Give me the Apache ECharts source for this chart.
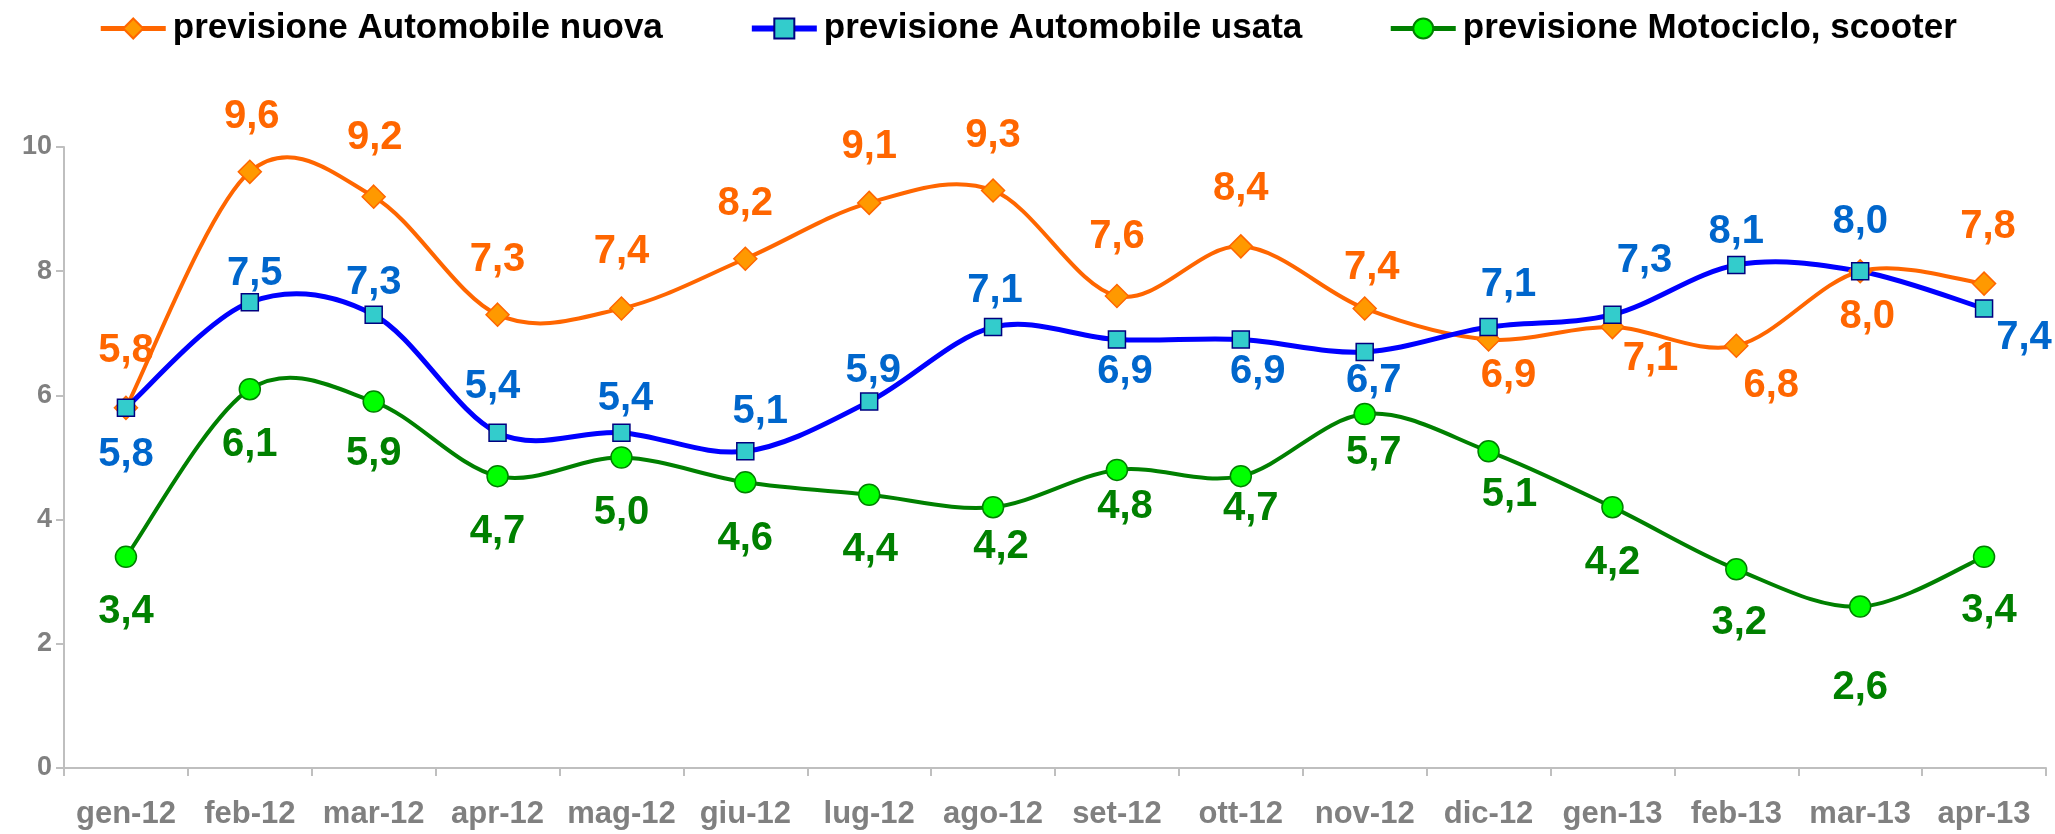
<!DOCTYPE html>
<html>
<head>
<meta charset="utf-8">
<title>previsione</title>
<script src="https://cdn.jsdelivr.net/npm/echarts@6/dist/echarts.min.js"></script>
<style>
  html, body { margin: 0; padding: 0; background: #fff; }
  #main { width: 2055px; height: 834px; }
</style>
</head>
<body>
<div id="main"></div>
<script>
// mesi
var categories = ['gen-12', 'feb-12', 'mar-12', 'apr-12', 'mag-12', 'giu-12', 'lug-12', 'ago-12',
    'set-12', 'ott-12', 'nov-12', 'dic-12', 'gen-13', 'feb-13', 'mar-13', 'apr-13'];
// valori delle tre serie
var nuova = [5.8, 9.6, 9.2, 7.3, 7.4, 8.2, 9.1, 9.3, 7.6, 8.4, 7.4, 6.9, 7.1, 6.8, 8.0, 7.8];
var usata = [5.8, 7.5, 7.3, 5.4, 5.4, 5.1, 5.9, 7.1, 6.9, 6.9, 6.7, 7.1, 7.3, 8.1, 8.0, 7.4];
var moto = [3.4, 6.1, 5.9, 4.7, 5.0, 4.6, 4.4, 4.2, 4.8, 4.7, 5.7, 5.1, 4.2, 3.2, 2.6, 3.4];
var yTicks = [0, 2, 4, 6, 8, 10];

// spostamento delle etichette rispetto al punto [dx, dy]
var nuovaLabelOffset = [[0, -57], [2, -55], [1, -59], [0, -55], [0, -56], [0, -55], [0, -56], [0, -55],
    [0, -59], [0, -57], [7, -40], [20, 36], [38, 32], [35, 40], [7, 46], [4, -57]];
var usataLabelOffset = [[0, 47], [5, -28], [0, -32], [-5, -46], [4, -34], [15, -39], [4, -31], [2, -36],
    [8, 32], [17, 32], [9, 29], [20, -42], [32, -54], [0, -33], [0, -49], [40, 30]];
var motoLabelOffset = [[0, 55], [0, 56], [0, 52], [0, 56], [0, 55], [0, 57], [1, 55], [8, 40],
    [8, 37], [10, 33], [9, 39], [21, 44], [0, 56], [3, 54], [0, 81], [5, 54]];

var FONT = '"Liberation Sans", Arial, sans-serif';

var NAMES = ['previsione Automobile nuova', 'previsione Automobile usata', 'previsione Motociclo, scooter'];

function fmt(v) {
    return v.toFixed(1).replace('.', ',');
}

function buildData(values, offsets) {
    return values.map(function (v, i) {
        return { value: v, label: { offset: offsets[i] } };
    });
}

// linea smussata come in Excel (bezier tipo Catmull-Rom), un tratto per ogni punto
function curveSeries(values, color, width) {
    return {
        type: 'custom',
        silent: true,
        clip: false,
        data: values.map(function (v, i) { return [i, v]; }),
        encode: { x: 0, y: 1 },
        renderItem: function (params, api) {
            var i = params.dataIndex;
            var n = values.length;
            if (i >= n - 1) return null;
            var pt = function (k) {
                k = Math.max(0, Math.min(n - 1, k));
                return api.coord([k, values[k]]);
            };
            var p0 = pt(i - 1), p1 = pt(i), p2 = pt(i + 1), p3 = pt(i + 2);
            var c1 = [p1[0] + (p2[0] - p0[0]) / 6, p1[1] + (p2[1] - p0[1]) / 6];
            var c2 = [p2[0] - (p3[0] - p1[0]) / 6, p2[1] - (p3[1] - p1[1]) / 6];
            return {
                type: 'path',
                shape: { pathData: 'M' + p1.join(',') + ' C' + c1.join(',') + ' ' + c2.join(',') + ' ' + p2.join(',') },
                style: { fill: null, stroke: color, lineWidth: width, lineCap: 'round', lineJoin: 'round' }
            };
        }
    };
}

function markerSeries(name, values, offsets, symbol, symbolSize, fill, border, labelColor) {
    return {
        name: name,
        type: 'line',
        data: buildData(values, offsets),
        symbol: symbol,
        symbolSize: symbolSize,
        lineStyle: { opacity: 0 },
        itemStyle: { color: fill, borderColor: border, borderWidth: 1.5 },
        label: {
            show: true,
            position: 'inside',
            color: labelColor,
            fontFamily: FONT,
            fontWeight: 'bold',
            fontSize: 40,
            formatter: function (p) { return fmt(p.value); }
        },
        emphasis: { disabled: true }
    };
}

var myChart = echarts.init(document.getElementById('main'));

var option = {
    backgroundColor: '#ffffff',
    animation: false,
    legend: {
        top: 6,
        left: 'center',
        itemWidth: 65,
        itemHeight: 25,
        itemGap: 86,
        textStyle: {
            color: '#000000',
            fontFamily: FONT,
            fontWeight: 'bold',
            fontSize: 35,
            padding: [0, 0, 0, 2]
        },
        data: [
            { name: NAMES[0], lineStyle: { color: '#ff6600', width: 5, opacity: 1 } },
            { name: NAMES[1], lineStyle: { color: '#0000ff', width: 6, opacity: 1 } },
            { name: NAMES[2], lineStyle: { color: '#008000', width: 5, opacity: 1 } }
        ]
    },
    grid: {
        left: 64,
        right: 9,
        top: 147,
        bottom: 66,
        containLabel: false
    },
    xAxis: {
        type: 'category',
        data: categories,
        boundaryGap: true,
        axisLine: { lineStyle: { color: '#bfbfbf', width: 2 } },
        axisTick: { show: true, length: 8, alignWithLabel: false, lineStyle: { color: '#bfbfbf', width: 2 } },
        axisLabel: {
            interval: 0,
            margin: 31,
            color: '#808080',
            fontFamily: FONT,
            fontWeight: 'bold',
            fontSize: 31
        },
        splitLine: { show: false }
    },
    yAxis: {
        type: 'value',
        min: yTicks[0],
        max: yTicks[yTicks.length - 1],
        interval: yTicks[1] - yTicks[0],
        axisLine: { show: true, lineStyle: { color: '#bfbfbf', width: 2 } },
        axisTick: { show: true, length: 8, lineStyle: { color: '#bfbfbf', width: 2 } },
        axisLabel: {
            margin: 12,
            color: '#808080',
            fontFamily: FONT,
            fontWeight: 'bold',
            fontSize: 27
        },
        splitLine: { show: false }
    },
    series: [
        curveSeries(nuova, '#ff6600', 4),
        markerSeries(NAMES[0], nuova, nuovaLabelOffset, 'diamond', 23, '#ff9900', '#ff6600', '#ff6600'),
        curveSeries(usata, '#0000ff', 5),
        markerSeries(NAMES[1], usata, usataLabelOffset, 'rect', 17, '#33cccc', '#000080', '#0066cc'),
        curveSeries(moto, '#008000', 4),
        markerSeries(NAMES[2], moto, motoLabelOffset, 'circle', 21, '#00ff00', '#008000', '#008000')
    ]
};

myChart.setOption(option);
</script>
</body>
</html>
